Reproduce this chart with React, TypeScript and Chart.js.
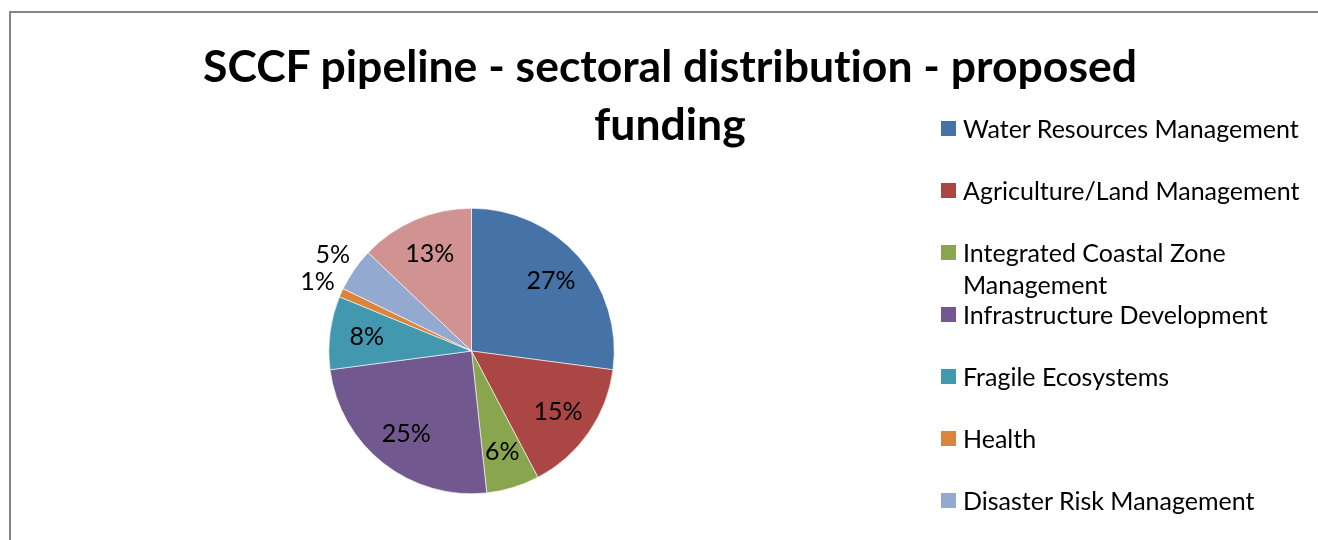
import React, { useEffect, useRef } from "react";
import { Chart, registerables } from "chart.js";

Chart.register(...registerables);

const titleLines = ["SCCF pipeline - sectoral distribution - proposed", "funding"];
const categories = [
  "Water Resources Management",
  "Agriculture/Land Management",
  "Integrated Coastal Zone Management",
  "Infrastructure Development",
  "Fragile Ecosystems",
  "Health",
  "Disaster Risk Management",
  "Other",
];
const values = [27.1, 15.2, 6.0, 24.6, 8.3, 1.0, 4.9, 12.9];
const colors = [
  "#4572A7",
  "#AA4643",
  "#89A54E",
  "#71588F",
  "#4198AF",
  "#DB843D",
  "#93A9CF",
  "#D19392",
];

const W = 1318;
const H = 540;
const LABEL_FONT = "Lato, 'Open Sans', sans-serif";

const labelPlugin = {
  id: "pctLabels",
  afterDatasetsDraw(chart: any) {
    const ctx = chart.ctx;
    const meta = chart.getDatasetMeta(0);
    const total = values.reduce((a, b) => a + b, 0);
    ctx.save();
    ctx.font = `25px ${LABEL_FONT}`;
    ctx.fillStyle = "#000";
    ctx.textAlign = "center";
    ctx.textBaseline = "middle";
    meta.data.forEach((arc: any, i: number) => {
      const p = arc.getProps(["x", "y", "startAngle", "endAngle", "outerRadius"], true);
      const mid = (p.startAngle + p.endAngle) / 2;
      const pct = (values[i] / total) * 100;
      const r = pct < 5.5 ? p.outerRadius + 26 : p.outerRadius * 0.74;
      const x = p.x + Math.cos(mid) * r;
      const y = p.y + Math.sin(mid) * r;
      ctx.fillText(Math.round(pct) + "%", x, y);
    });
    ctx.restore();
  },
};

export default function App() {
  const ref = useRef<HTMLCanvasElement | null>(null);

  useEffect(() => {
    if (!ref.current) return;
    const chart = new Chart(ref.current, {
      type: "pie",
      data: {
        labels: categories,
        datasets: [
          {
            data: values,
            backgroundColor: colors,
            borderColor: "#ffffff",
            borderWidth: 0.6,
          },
        ],
      },
      options: {
        animation: false,
        responsive: false,
        maintainAspectRatio: false,
        layout: { padding: { left: 328, right: 703, top: 208, bottom: 46 } },
        plugins: {
          legend: { display: false },
          title: { display: false },
          tooltip: { enabled: false },
        },
      },
      plugins: [labelPlugin],
    });
    return () => chart.destroy();
  }, []);

  return (
    <div
      style={{
        position: "fixed",
        left: 0,
        top: 0,
        width: W,
        height: H,
        overflow: "hidden",
        background: "#fff",
      }}
    >
      <div
        style={{
          position: "absolute",
          left: 9,
          top: 11,
          width: 1400,
          height: 700,
          borderLeft: "2px solid #858585",
          borderTop: "2px solid #858585",
          boxSizing: "border-box",
        }}
      />
      <canvas
        ref={ref}
        width={W}
        height={H}
        style={{ position: "absolute", left: 0, top: 0, width: W, height: H }}
      />
      <div
        style={{
          position: "absolute",
          left: 170,
          width: 1000,
          top: 36,
          textAlign: "center",
          fontFamily: LABEL_FONT,
          fontWeight: 700,
          fontSize: 44.5,
          lineHeight: "58px",
          fontVariantLigatures: "none",
          color: "#000",
        }}
      >
        {titleLines.map((t, i) => (
          <div key={i}>{t}</div>
        ))}
      </div>
      {categories.map((c, i) => (
        <div
          key={c}
          style={{
            position: "absolute",
            left: 941,
            top: 128 + 62 * i - 16,
            width: 370,
            display: "flex",
            alignItems: "flex-start",
            fontFamily: LABEL_FONT,
            fontSize: 25,
            lineHeight: "32px",
            fontVariantLigatures: "none",
            color: "#000",
          }}
        >
          <span
            style={{
              display: "inline-block",
              width: 15,
              height: 15,
              marginTop: 9,
              marginRight: 7,
              background: colors[i],
              flex: "0 0 auto",
            }}
          />
          <span style={{ width: 348 }}>{c}</span>
        </div>
      ))}
    </div>
  );
}
